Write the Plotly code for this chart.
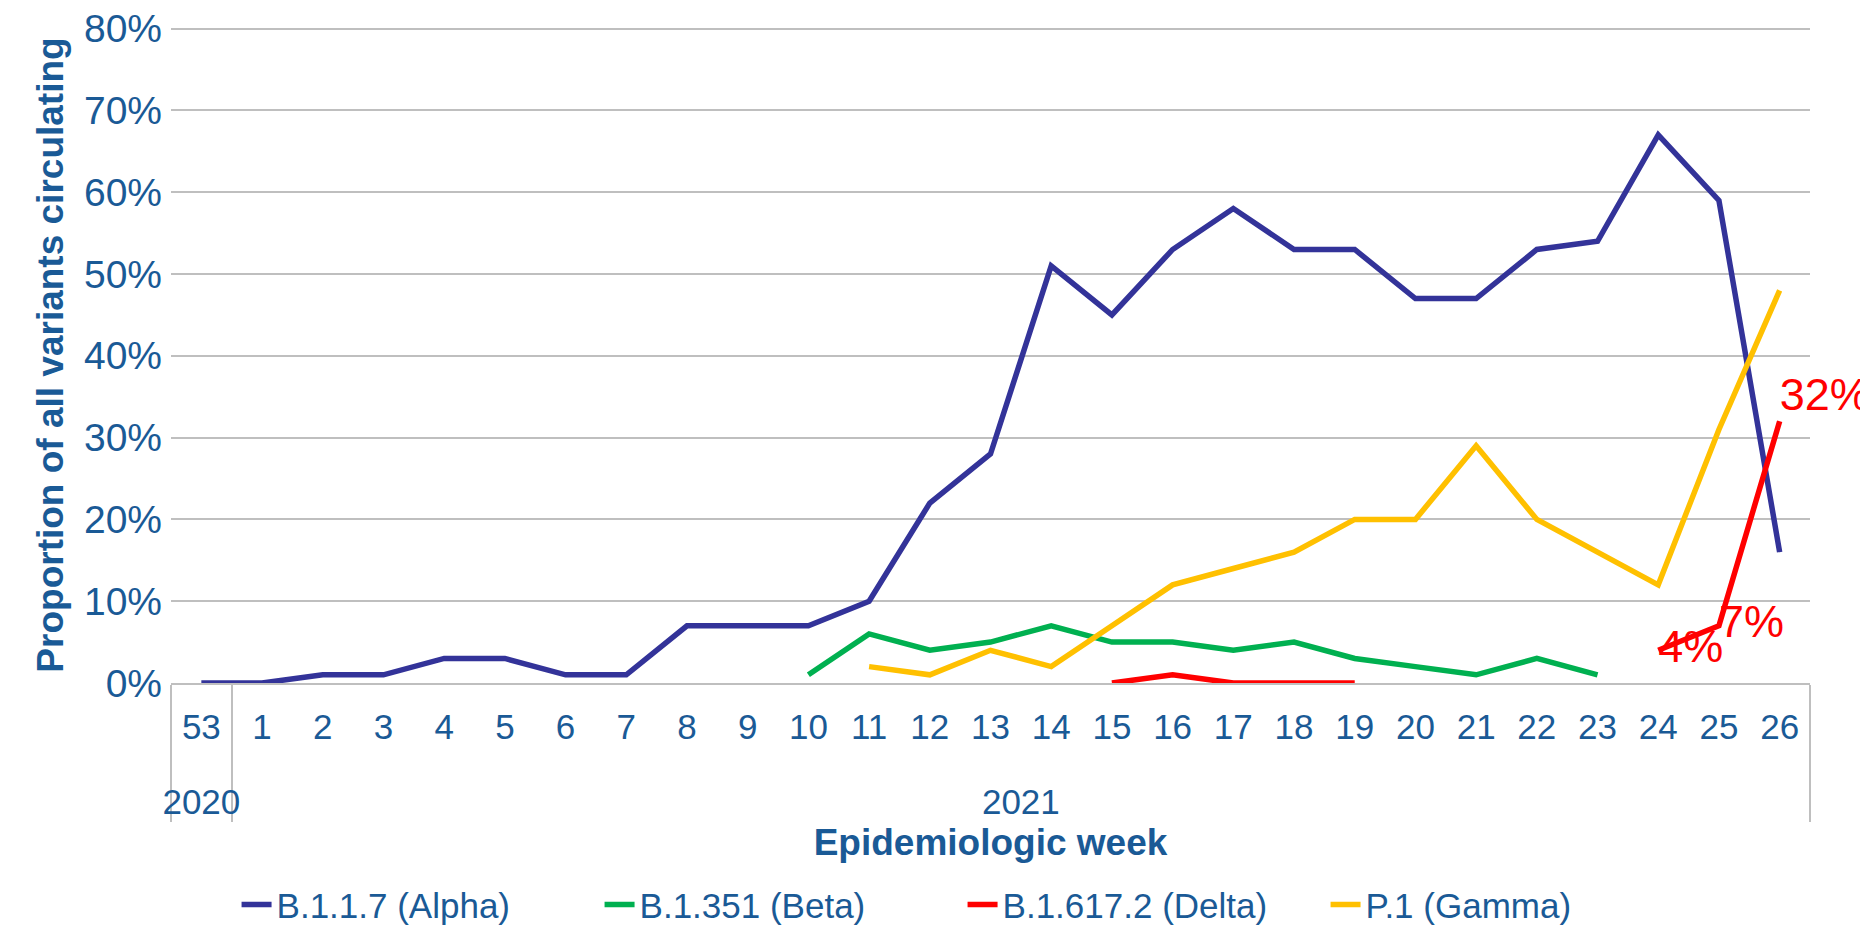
import plotly.graph_objects as go

# categories: week 53 of 2020, then weeks 1-26 of 2021
years = ["2020"] + ["2021"] * 26
weeks = ["53"] + [str(w) for w in range(1, 27)]

alpha = [0, 0, 1, 1, 3, 3, 1, 1, 7, 7, 7, 10, 22, 28, 51, 45, 53, 58, 53, 53,
         47, 47, 53, 54, 67, 59, 16]
beta = [None] * 10 + [1, 6, 4, 5, 7, 5, 5, 4, 5, 3, 2, 1, 3, 1] + [None] * 3
delta = [None] * 15 + [0, 1, 0, 0, 0] + [None] * 4 + [4, 7, 32]
gamma = [None] * 11 + [2, 1, 4, 2, 7, 12, 14, 16, 20, 20, 29, 20, 16, 12, 31, 48]

delta_labels = ["" if (v is None or i < 24) else f"{v}%" for i, v in enumerate(delta)]
delta_pos = ["middle right"] * 26 + ["top right"]

FONT = "Liberation Sans, Arial, sans-serif"
TXT = "#1a5a96"
LW = 5.5

# second (blank) line pushes the year row further down, like the Excel layout
week_ticks = [w + "<br>\u00a0" for w in weeks]
x = [years, week_ticks]

fig = go.Figure()
fig.add_trace(go.Scatter(x=x, y=alpha, mode="lines", name="B.1.1.7 (Alpha)",
                         line=dict(color="#333399", width=LW)))
fig.add_trace(go.Scatter(x=x, y=beta, mode="lines", name="B.1.351 (Beta)",
                         line=dict(color="#00b050", width=LW)))
fig.add_trace(go.Scatter(x=x, y=delta, mode="lines+text", name="B.1.617.2 (Delta)",
                         line=dict(color="#ff0000", width=LW), cliponaxis=False,
                         text=delta_labels, textposition=delta_pos,
                         textfont=dict(color="#ff0000", size=45, family=FONT)))
fig.add_trace(go.Scatter(x=x, y=gamma, mode="lines", name="P.1 (Gamma)",
                         line=dict(color="#ffc000", width=LW)))

fig.update_layout(
    width=1868, height=926,
    margin=dict(l=163, r=66, t=19, b=251, autoexpand=False),
    plot_bgcolor="white", paper_bgcolor="white",
    font=dict(family=FONT, color=TXT, size=35),
    showlegend=True,
    legend=dict(orientation="h", x=0.04, xanchor="left", y=-0.338, yanchor="middle",
                font=dict(size=35, color=TXT), entrywidth=318, entrywidthmode="pixels"),
    xaxis=dict(type="multicategory", range=[-0.5, 26.5], automargin=False,
               showline=True, linecolor="#bfbfbf", linewidth=2,
               showgrid=False, showdividers=True, dividercolor="#bfbfbf", dividerwidth=2,
               tickfont=dict(size=35, color=TXT), ticklabelstandoff=12,
               title=dict(text="Epidemiologic week", standoff=10,
                          font=dict(size=37, color=TXT, weight="bold"))),
    yaxis=dict(range=[0, 80.2], dtick=10, ticksuffix="%", automargin=False,
               showgrid=True, gridcolor="#bfbfbf", gridwidth=2, zeroline=False,
               tickfont=dict(size=39, color=TXT), ticklabelstandoff=8,
               ticklabeloverflow="allow",
               title=dict(text="Proportion of all variants circulating", standoff=8,
                          font=dict(size=37, color=TXT, weight="bold"))),
)

fig.write_html("out.html")
